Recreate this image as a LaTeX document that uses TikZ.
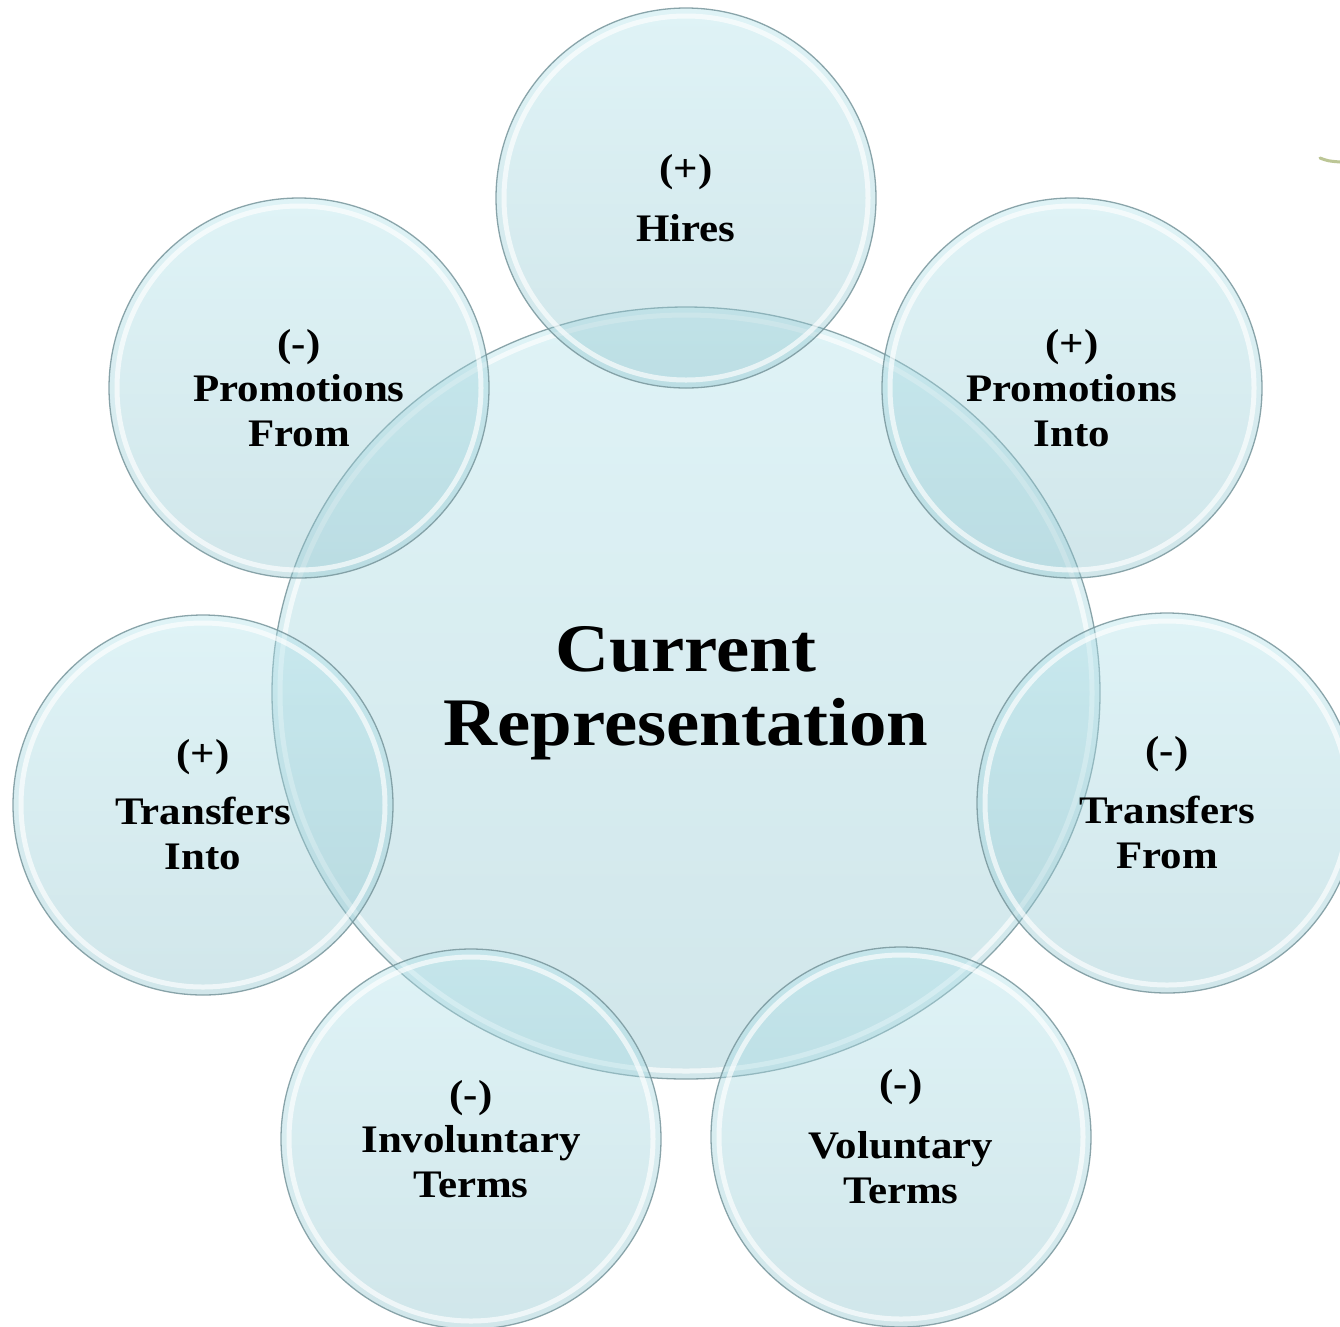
\documentclass[tikz,border=0pt]{standalone}
\usepackage{fontspec}
\usetikzlibrary{shapes.geometric}
\newfontfamily\bubblefont{Liberation Serif}[FakeStretch=1.1]
\definecolor{bubtop}{RGB}{176,226,234}
\definecolor{bubbot}{RGB}{140,194,204}
\definecolor{bubline}{RGB}{120,150,156}
\definecolor{leafgreen}{RGB}{188,198,150}
\begin{document}
\begin{tikzpicture}[x=1pt,y=-1pt,
  bubble look/.style={inner sep=0pt,
    top color=bubtop, bottom color=bubbot, fill opacity=0.4,
    draw=bubline, draw opacity=0.85, line width=1.3pt},
  bubble/.style={circle, minimum size=#1, bubble look},
  rim/.style={draw=white, line width=5pt, draw opacity=0.65},
  small label/.style={font=\bubblefont\bfseries\fontsize{39}{45}\selectfont,
    align=center, text=black, inner sep=0pt},
  big label/.style={font=\bubblefont\bfseries\fontsize{68}{74}\selectfont,
    align=center, text=black, inner sep=0pt}]

% page
\fill[white] (0,0) rectangle (1340,1326);
\useasboundingbox (0,0) rectangle (1340,1326);

% central bubble, slightly wider than tall
\node[ellipse, minimum width=828pt, minimum height=772pt, bubble look] (cur) at (686,693) {};
\draw[rim] (cur.center) ellipse[x radius=406pt, y radius=378pt];

% ring of seven bubbles
\node[bubble=380pt] (hires) at (686,198) {};
\node[bubble=380pt] (pinto) at (1072,388) {};
\node[bubble=380pt] (tfrom) at (1167,803) {};
\node[bubble=380pt] (vol)   at (901,1137) {};
\node[bubble=380pt] (invol) at (471,1139) {};
\node[bubble=380pt] (tinto) at (203,805) {};
\node[bubble=380pt] (pfrom) at (299,388) {};
\foreach \b in {hires,pinto,tfrom,vol,invol,tinto,pfrom}
  \draw[rim] (\b.center) circle[radius=182pt];

% small leaf tip at the right edge
\draw[leafgreen, line width=3pt, line cap=round]
  (1320,158) .. controls (1328,161) .. (1340,162);

% labels
\node[big label] (curtext) at (cur.center) {Current\\Representation};
\node[small label] (hirestext) at (hires.center) {(+)\\[15pt]Hires};
\node[small label] (pintotext) at (pinto.center) {(+)\\Promotions\\Into};
\node[small label] (tfromtext) at (tfrom.center) {(-)\\[15pt]Transfers\\From};
\node[small label] (voltext)   at (vol.center)   {(-)\\[17pt]Voluntary\\Terms};
\node[small label] (involtext) at (invol.center) {(-)\\Involuntary\\Terms};
\node[small label] (tintotext) at (tinto.center) {(+)\\[13pt]Transfers\\Into};
\node[small label] (pfromtext) at (pfrom.center) {(-)\\Promotions\\From};
\end{tikzpicture}
\end{document}
